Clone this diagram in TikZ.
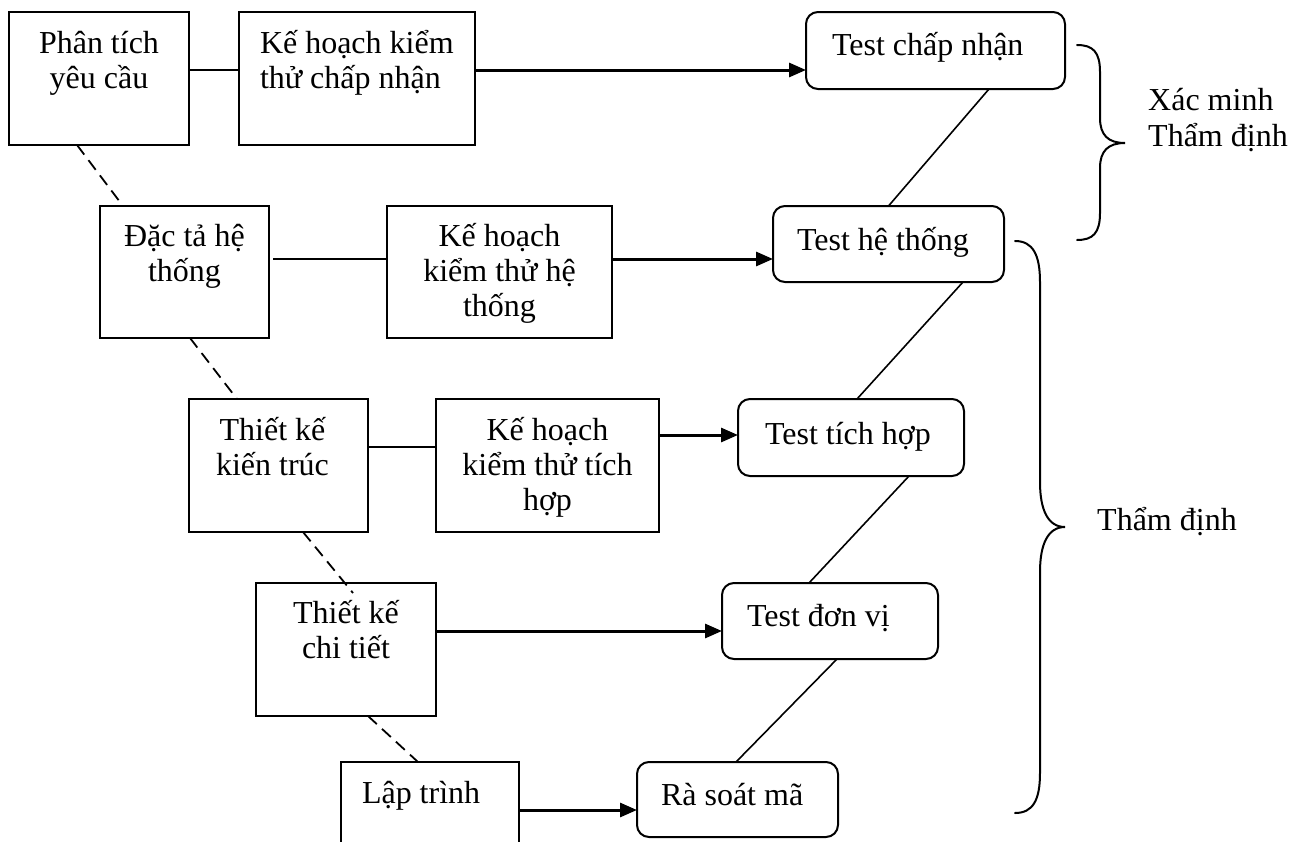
\documentclass[tikz,border=0pt]{standalone}
\usepackage{fontspec}
\setmainfont{Liberation Serif}
\usetikzlibrary{arrows.meta}

% text block of a box: width, height, alignment, first baseline, lines
\newcommand\boxtext[5]{%
  \parbox[c][#2][t]{#1}{\fontsize{32}{35}\selectfont\lineskiplimit=-100pt
    #3\rule{0pt}{#4}#5}}

\tikzset{
  sq/.style={draw, line width=2pt, inner sep=0pt, outer sep=0pt},
  rd/.style={sq, rounded corners=12pt},
  link/.style={line width=1.8pt},
  flow/.style={line width=3pt, -{Triangle[length=17pt,width=14pt]}},
  trace/.style={line width=1.8pt, dash pattern=on 12pt off 7pt},
  vline/.style={line width=1.6pt},
  brace/.style={line width=2pt, line cap=round},
  lbl/.style={inner sep=0pt, font=\fontsize{32}{35}\selectfont},
}

\begin{document}
\begin{tikzpicture}[x=1pt, y=-1pt]
\useasboundingbox (0,0) rectangle (1304,841);
\fill[white] (0,0) rectangle (1304,841);
\clip (0,0) rectangle (1304,841);

% development side
\node[sq, anchor=north west] (pt) at (9,12)
  {\boxtext{180pt}{133pt}{\centering}{41pt}{Phân tích\\yêu cầu}};
\node[sq, anchor=north west] (kh1) at (239,12)
  {\boxtext{236pt}{133pt}{\raggedright\leftskip=21pt}{41pt}{Kế hoạch kiểm\\thử chấp nhận}};
\node[sq, anchor=north west] (dt) at (100,206)
  {\boxtext{169pt}{132pt}{\centering}{40pt}{Đặc tả hệ\\thống}};
\node[sq, anchor=north west] (kh2) at (387,206)
  {\boxtext{225pt}{132pt}{\centering}{40pt}{Kế hoạch\\kiểm thử hệ\\thống}};
\node[sq, anchor=north west] (tkkt) at (189,399)
  {\boxtext{179pt}{133pt}{\centering\rightskip=12pt plus 1fil}{41pt}{Thiết kế\\kiến trúc}};
\node[sq, anchor=north west] (kh3) at (436,399)
  {\boxtext{223pt}{133pt}{\centering}{41pt}{Kế hoạch\\kiểm thử tích\\hợp}};
\node[sq, anchor=north west] (tkct) at (256,583)
  {\boxtext{180pt}{133pt}{\centering}{40pt}{Thiết kế\\chi tiết}};
\node[sq, anchor=north west] (lt) at (341,762)
  {\boxtext{178pt}{120pt}{\raggedright\leftskip=21pt}{41pt}{Lập trình}};

% test side
\node[rd, anchor=north west] (tcn) at (806,12)
  {\boxtext{259pt}{77pt}{\raggedright\leftskip=26pt}{43pt}{Test chấp nhận}};
\node[rd, anchor=north west] (tht) at (773,206)
  {\boxtext{231pt}{76pt}{\raggedright\leftskip=24pt}{44pt}{Test hệ thống}};
\node[rd, anchor=north west] (tth) at (738,399)
  {\boxtext{226pt}{77pt}{\raggedright\leftskip=27pt}{45pt}{Test tích hợp}};
\node[rd, anchor=north west] (tdv) at (722,583)
  {\boxtext{216pt}{76pt}{\raggedright\leftskip=25pt}{43pt}{Test đơn vị}};
\node[rd, anchor=north west] (rsm) at (637,762)
  {\boxtext{201pt}{75pt}{\raggedright\leftskip=24pt}{43pt}{Rà soát mã}};

% horizontal links and arrows
\draw[link] ([yshift=-58pt]pt.north east) -- ([yshift=-58pt]kh1.north west);
\draw[flow] ([yshift=-58pt]kh1.north east) -- ([yshift=-58pt]tcn.north west);
\draw[link, shorten <=4pt] ([yshift=-53pt]dt.north east) -- ([yshift=-53pt]kh2.north west);
\draw[flow] ([yshift=-53pt]kh2.north east) -- ([yshift=-53pt]tht.north west);
\draw[link] ([yshift=-48pt]tkkt.north east) -- ([yshift=-48pt]kh3.north west);
\draw[flow] ([yshift=-36pt]kh3.north east) -- ([yshift=-36pt]tth.north west);
\draw[flow] ([yshift=-48pt]tkct.north east) -- ([yshift=-48pt]tdv.north west);
\draw[flow] ([yshift=-48pt]lt.north east) -- ([yshift=-48pt]rsm.north west);

% descending dashed chain
\draw[trace] ([xshift=-22pt]pt.south) -- ([xshift=-61.5pt]dt.north);
\draw[trace] ([xshift=5.5pt]dt.south) -- ([xshift=-41.5pt]tkkt.north);
\draw[trace] ([xshift=24.5pt]tkkt.south) -- ([xshift=7pt,yshift=-10pt]tkct.north);
\draw[trace] ([xshift=22pt]tkct.south) -- ([xshift=-12pt]lt.north);

% ascending test chain
\draw[vline] ([xshift=53.5pt]tcn.south) -- (tht.north);
\draw[vline] ([xshift=74.5pt]tht.south) -- ([xshift=6pt]tth.north);
\draw[vline] ([xshift=58pt]tth.south) -- ([xshift=-21pt]tdv.north);
\draw[vline] ([xshift=7pt]tdv.south) -- ([xshift=-1.5pt]rsm.north);

% braces
\draw[brace] (1077,45) .. controls (1093,45) and (1100,52) .. (1100,72)
  -- (1100,118) .. controls (1100,135) and (1108,143) .. (1125,143)
  .. controls (1108,143) and (1100,151) .. (1100,168)
  -- (1100,213) .. controls (1100,233) and (1093,240) .. (1077,240);
\draw[brace] (1015,241) .. controls (1033,241) and (1040,255) .. (1040,282)
  -- (1040,482) .. controls (1040,510) and (1048,527) .. (1065,527)
  .. controls (1048,527) and (1040,544) .. (1040,572)
  -- (1040,773) .. controls (1040,800) and (1033,813) .. (1015,813);

\node[lbl, anchor=base west] (xm) at (1148,110) {Xác minh};
\node[lbl, anchor=base west] (td1) at (1148,146) {Thẩm định};
\node[lbl, anchor=base west] (td2) at (1097,530) {Thẩm định};
\end{tikzpicture}
\end{document}
